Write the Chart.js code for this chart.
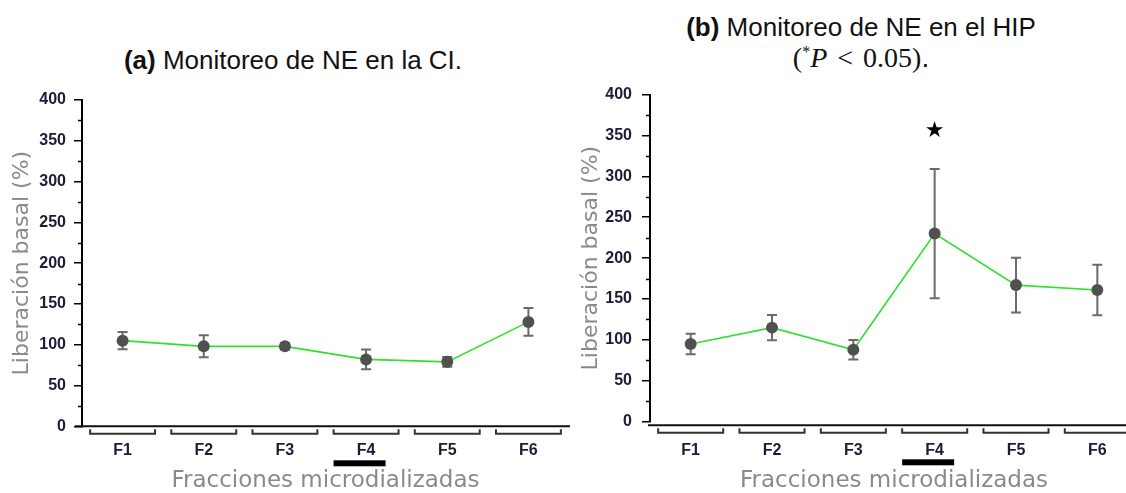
<!DOCTYPE html>
<html><head><meta charset="utf-8">
<script src="https://cdn.jsdelivr.net/npm/chart.js@4/dist/chart.umd.min.js"></script>
<style>
html,body{margin:0;padding:0;background:#fff;width:1126px;height:493px;overflow:hidden;position:relative;}
.cw{position:absolute;top:0;height:493px;}
.title{position:absolute;font-family:"Liberation Sans",Arial,sans-serif;color:#111;font-size:26px;text-align:center;white-space:nowrap;transform:translate(-50%,-50%);line-height:1;}
.math{font-family:"Liberation Serif","DejaVu Serif",serif;font-size:28px;word-spacing:3px;}
.math sup{font-size:16px;vertical-align:10px;}
</style></head>
<body>
<div class="title" style="left:293px;top:60px"><b>(a)</b> Monitoreo de NE en la CI.</div>
<div class="title" style="left:861px;top:27px"><b>(b)</b> Monitoreo de NE en el HIP</div>
<div class="title math" style="left:861px;top:58px">(<sup>*</sup><i>P</i> &lt; 0.05)<span style="font-family:'Liberation Sans'">.</span></div>
<div class="cw" style="left:0;width:575px"><canvas id="c1" width="575" height="493"></canvas></div>
<div class="cw" style="left:575px;width:575px"><canvas id="c2" width="575" height="493"></canvas></div>
<script>
// ---- data ----
const categories = ['F1', 'F2', 'F3', 'F4', 'F5', 'F6'];
const ciMeans  = [105, 98, 98, 82, 79, 128];
const ciErrors = [10.5, 13.5, 4, 12, 6, 17];
const hipMeans  = [95, 115, 88, 230, 167, 161];
const hipErrors = [12.5, 15.5, 12, 79, 33.5, 31];
const yTickValues = [0, 50, 100, 150, 200, 250, 300, 350, 400];
const ciSignificance  = [null, null, null, null, null, null];
const hipSignificance = [null, null, null, '★', null, null];
const treatmentIndex = 3;   // fraction with the treatment bar (F4)

const yTitle = 'Liberación basal (%)';
const xTitle = 'Fracciones microdializadas';

const decorPlugin = {
  id: 'decor',
  beforeDatasetsDraw(chart, args, o) {
    const ctx = chart.ctx, ys = chart.scales.y, meta = chart.getDatasetMeta(0);
    ctx.save();
    ctx.strokeStyle = '#6a6a6a'; ctx.lineWidth = 2;
    o.errors.forEach((e, i) => {
      const p = meta.data[i]; const m = o.means[i];
      const t = ys.getPixelForValue(m + e), b = ys.getPixelForValue(m - e);
      ctx.beginPath();
      ctx.moveTo(p.x, t); ctx.lineTo(p.x, b);
      ctx.moveTo(p.x - 5, t); ctx.lineTo(p.x + 5, t);
      ctx.moveTo(p.x - 5, b); ctx.lineTo(p.x + 5, b);
      ctx.stroke();
    });
    ctx.restore();
  },
  afterDraw(chart, args, o) {
    const ctx = chart.ctx, ys = chart.scales.y, xs = chart.scales.x, ca = chart.chartArea;
    ctx.save();
    // minor ticks
    ctx.strokeStyle = '#000'; ctx.lineWidth = 1.5;
    for (let k = 0; k < yTickValues.length - 1; k++) {
      const v = (yTickValues[k] + yTickValues[k + 1]) / 2;
      const y = Math.round(ys.getPixelForValue(v)) + 0.5;
      ctx.beginPath(); ctx.moveTo(ca.left - 4, y); ctx.lineTo(ca.left, y); ctx.stroke();
    }
    // x axis line
    const ay = ys.getPixelForValue(0) + o.axisOffset;
    ctx.lineWidth = 2; ctx.strokeStyle = '#111';
    ctx.beginPath(); ctx.moveTo(ca.left + o.axisStart, ay); ctx.lineTo(o.axisEnd === 'canvas' ? chart.width : ca.right + 1, ay); ctx.stroke();
    // brackets
    const step = (xs.right - xs.left) / categories.length;
    ctx.strokeStyle = '#333'; ctx.lineWidth = 2;
    categories.forEach((c, i) => {
      const cx = xs.getPixelForValue(i), h = step * 0.4;
      ctx.beginPath();
      ctx.moveTo(cx - h, ay + 3); ctx.lineTo(cx - h, ay + 7.5);
      ctx.lineTo(cx + h, ay + 7.5); ctx.lineTo(cx + h, ay + 3);
      ctx.stroke();
    });
    // treatment bar
    const tx = xs.getPixelForValue(treatmentIndex) - 6.5;
    ctx.fillStyle = '#000';
    ctx.fillRect(tx - 26, ay + 34, 52, 6);
    // significance marks
    ctx.font = '22px "DejaVu Sans"'; ctx.textAlign = 'center'; ctx.textBaseline = 'middle';
    o.sig.forEach((s, i) => {
      if (!s) return;
      const top = ys.getPixelForValue(o.means[i] + o.errors[i]);
      ctx.fillText(s, xs.getPixelForValue(i), top - 38);
    });
    ctx.restore();
  }
};

function makeChart(id, means, errors, sig, cfg) {
  return new Chart(document.getElementById(id), {
    type: 'line',
    data: {
      labels: categories,
      datasets: [{
        data: means,
        borderColor: '#2fe02f', borderWidth: 1.6, tension: 0,
        pointRadius: 6, pointBackgroundColor: '#505050', pointBorderWidth: 0,
        pointHoverRadius: 6
      }]
    },
    options: {
      responsive: false, animation: false, events: [],
      layout: { padding: { left: 0, top: cfg.top, right: cfg.right, bottom: 0 } },
      plugins: {
        legend: { display: false }, tooltip: { enabled: false },
        decor: { means, errors, sig, axisOffset: cfg.axisOffset, axisStart: cfg.axisStart, axisEnd: cfg.axisEnd }
      },
      scales: {
        x: {
          type: 'category', offset: true,
          grid: { display: false, drawTicks: false }, border: { display: false },
          ticks: { font: { family: 'Liberation Sans', size: 16, weight: 'bold' }, color: '#1c1c38', padding: cfg.xPad, maxRotation: 0 },
          title: { display: true, text: xTitle, color: '#8a8a8a', font: { family: 'DejaVu Sans', size: 23, lineHeight: 1 }, padding: { top: 0, bottom: 0 } },
          afterFit: s => { s.height = cfg.xHeight; }
        },
        y: {
          min: 0, max: 400,
          afterBuildTicks: s => { s.ticks = yTickValues.map(v => ({ value: v })); },
          grid: { drawOnChartArea: false, drawTicks: true, tickLength: 8, color: '#000', lineWidth: 1.5 },
          border: { display: true, color: '#000', width: 2 },
          ticks: { font: { family: 'Liberation Sans', size: 16, weight: 'bold' }, color: '#1c1c38', padding: cfg.yPad },
          title: { display: true, text: yTitle, color: '#8a8a8a', font: { family: 'DejaVu Sans', size: 22, lineHeight: 1 }, padding: { top: cfg.yTitlePad, bottom: 0 } },
          afterFit: s => { s.width = cfg.yWidth; }
        }
      }
    },
    plugins: [decorPlugin]
  });
}

makeChart('c1', ciMeans, ciErrors, ciSignificance,
  { top: 100, right: 3.4, xHeight: 66.7, yWidth: 82, xPad: 14.7, yPad: 8, yTitlePad: 11, axisOffset: 0, axisStart: -7, axisEnd: 'area' });
makeChart('c2', hipMeans, hipErrors, hipSignificance,
  { top: 94.5, right: 12, xHeight: 71.3, yWidth: 75, xPad: 19.3, yPad: 10, yTitlePad: 5, axisOffset: 3.6, axisStart: -2, axisEnd: 'canvas' });
</script>
</body></html>
